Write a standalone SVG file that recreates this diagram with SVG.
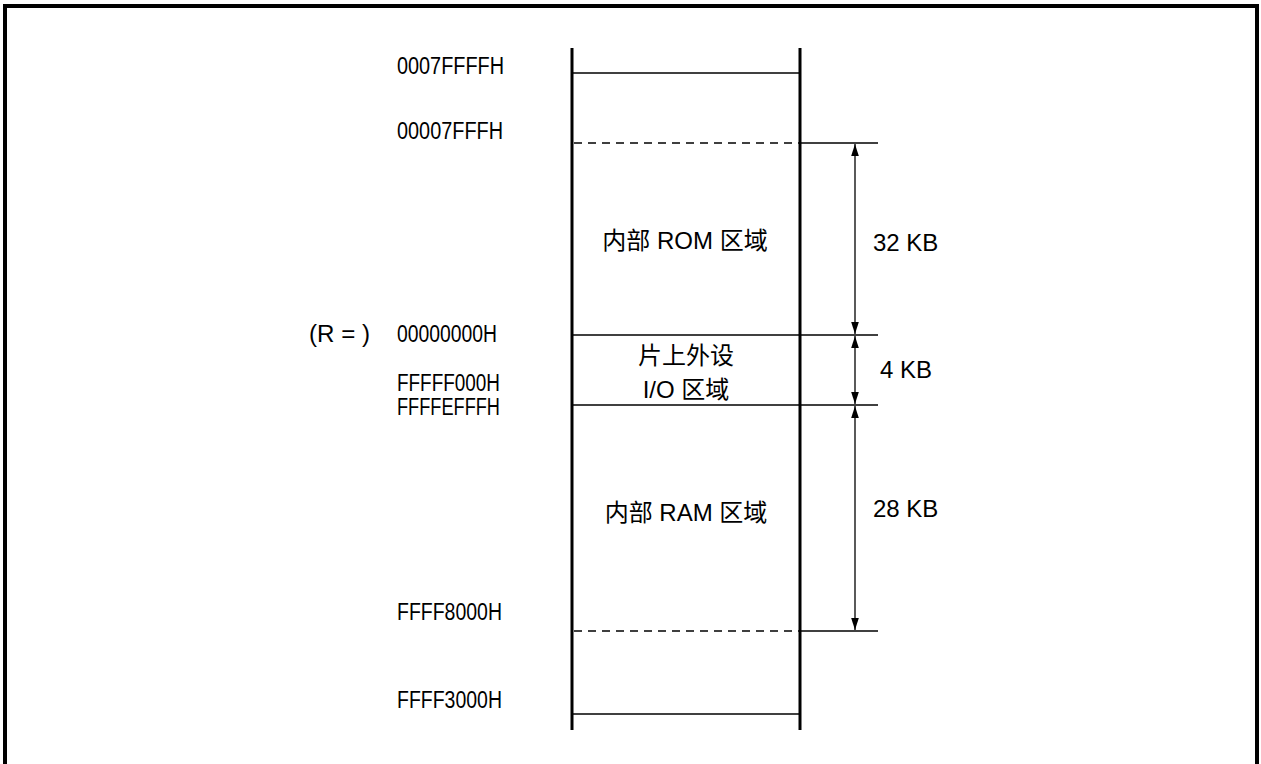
<svg xmlns="http://www.w3.org/2000/svg" width="1261" height="764" viewBox="0 0 1261 764">
<style>
.addr{font-family:"Liberation Sans",Arial,sans-serif;font-size:23px;fill:#000}
.lbl{font-family:"Liberation Sans","Noto Sans CJK SC",sans-serif;font-size:24px;fill:#000;text-anchor:middle}
.size{font-family:"Liberation Sans",Arial,sans-serif;font-size:24px;fill:#000}
.thick{stroke:#000;stroke-width:3;fill:none}
.thin{stroke:#000;stroke-width:1.3;fill:none}
.dash{stroke:#000;stroke-width:1.6;stroke-dasharray:8 6;fill:none}
</style>
<defs>
<marker id="ah" viewBox="0 0 12 12" refX="12" refY="6" markerWidth="12" markerHeight="12" markerUnits="userSpaceOnUse" orient="auto-start-reverse">
<path d="M0,2.2 L12,6 L0,9.8 Z" fill="#000"/>
</marker>
</defs>
<rect width="1261" height="764" fill="#fff"/>
<path d="M5,764 V6 H1257 V764" fill="none" stroke="#000" stroke-width="4"/>

<g id="memory-map">
<line class="thick" x1="572" y1="48" x2="572" y2="730"/>
<line class="thick" x1="800" y1="48" x2="800" y2="730"/>
<line class="thin" x1="572" y1="73" x2="800" y2="73"/>
<line class="dash" x1="574" y1="143" x2="799" y2="143"/>
<line class="thin" x1="800" y1="143" x2="878" y2="143"/>
<line class="thin" x1="572" y1="335" x2="878" y2="335"/>
<line class="thin" x1="572" y1="405" x2="878" y2="405"/>
<line class="dash" x1="574" y1="631" x2="799" y2="631"/>
<line class="thin" x1="800" y1="631" x2="878" y2="631"/>
<line class="thin" x1="572" y1="714" x2="800" y2="714"/>
</g>

<g id="addresses">
<text class="addr" x="397" y="74" textLength="107" lengthAdjust="spacingAndGlyphs">0007FFFFH</text>
<text class="addr" x="397" y="139" textLength="106" lengthAdjust="spacingAndGlyphs">00007FFFH</text>
<text class="addr" x="309" y="342" textLength="61" lengthAdjust="spacingAndGlyphs">(R = )</text>
<text class="addr" x="397" y="342" textLength="100" lengthAdjust="spacingAndGlyphs">00000000H</text>
<text class="addr" x="397" y="391" textLength="103" lengthAdjust="spacingAndGlyphs">FFFFF000H</text>
<text class="addr" x="397" y="415" textLength="103" lengthAdjust="spacingAndGlyphs">FFFFEFFFH</text>
<text class="addr" x="397" y="620" textLength="105" lengthAdjust="spacingAndGlyphs">FFFF8000H</text>
<text class="addr" x="397" y="708" textLength="105" lengthAdjust="spacingAndGlyphs">FFFF3000H</text>
</g>

<g id="rom">
<text class="lbl" x="685" y="249">内部 ROM 区域</text>
</g>
<g id="io">
<text class="lbl" x="686" y="364">片上外设</text>
<text class="lbl" x="686" y="398">I/O 区域</text>
</g>
<g id="ram">
<text class="lbl" x="686" y="521">内部 RAM 区域</text>
</g>

<g id="connectors">
<line class="thin" x1="855" y1="144" x2="855" y2="334" marker-start="url(#ah)" marker-end="url(#ah)"/>
<line class="thin" x1="855" y1="336" x2="855" y2="404" marker-start="url(#ah)" marker-end="url(#ah)"/>
<line class="thin" x1="855" y1="406" x2="855" y2="630" marker-start="url(#ah)" marker-end="url(#ah)"/>
</g>

<g id="sizes">
<text class="size" x="873" y="251">32 KB</text>
<text class="size" x="880" y="378">4 KB</text>
<text class="size" x="873" y="517">28 KB</text>
</g>
</svg>
